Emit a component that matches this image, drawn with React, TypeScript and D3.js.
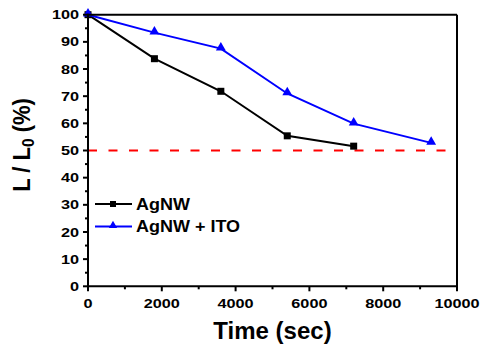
import React from "react";
import * as d3 from "d3";

const timeAg = [0, 1800, 3600, 5400, 7200];
const valAg = [100, 83.8, 71.8, 55.4, 51.6];
const timeIto = [0, 1800, 3600, 5400, 7200, 9300];
const valIto = [100, 93.4, 87.5, 71.0, 59.9, 52.8];
const xTicks = [0, 2000, 4000, 6000, 8000, 10000];
const yTicks = [0, 10, 20, 30, 40, 50, 60, 70, 80, 90, 100];
const threshold = 50;
const seriesNames = ["AgNW", "AgNW + ITO"];

const W = 486, H = 353;
const L = 88, R = 457, T = 14.7, B = 286.3;
const FONT = "'Liberation Sans', Arial, sans-serif";

export default function App() {
  const x = d3.scaleLinear().domain([0, 10000]).range([L, R]);
  const y = d3.scaleLinear().domain([0, 100]).range([B, T]);
  const line = d3.line<[number, number]>().x(d => x(d[0])).y(d => y(d[1]));
  const ag: [number, number][] = timeAg.map((t, i) => [t, valAg[i]]);
  const ito: [number, number][] = timeIto.map((t, i) => [t, valIto[i]]);
  const xMinor = d3.range(1000, 10000, 2000);
  const yMinor = d3.range(5, 100, 10);
  const tri = d3.symbol().type(d3.symbolTriangle).size(42)();
  const black = "#000";
  const blue = "#0000ff";

  return (
    <svg width={W} height={H} style={{ position: "absolute", left: 0, top: 0 }} fontFamily={FONT}>
      <rect width={W} height={H} fill="#fff" />
      {/* threshold */}
      <line x1={x(0)} x2={x(10000)} y1={y(threshold)} y2={y(threshold)} stroke="#ff0000" strokeWidth={2} strokeDasharray="9,11.5" />
      {/* series */}
      <path d={line(ag) || ""} fill="none" stroke={black} strokeWidth={2} />
      <path d={line(ito) || ""} fill="none" stroke={blue} strokeWidth={2} />
      {ag.map((d, i) => (
        <rect key={"a" + i} x={x(d[0]) - 3.5} y={y(d[1]) - 3.5} width={7} height={7} fill={black} />
      ))}
      {ito.map((d, i) => (
        <path key={"b" + i} d={tri || ""} transform={`translate(${x(d[0])},${y(d[1]) - 1})`} fill={blue} />
      ))}
      {/* frame */}
      <line x1={L} x2={R} y1={T} y2={T} stroke={black} strokeWidth={2} />
      <line x1={R} x2={R} y1={T} y2={B} stroke={black} strokeWidth={2} />
      <line x1={L} x2={L} y1={T - 1} y2={B + 1} stroke={black} strokeWidth={2} />
      <line x1={L - 1} x2={R + 1} y1={B} y2={B} stroke={black} strokeWidth={2} />
      {/* y ticks */}
      {yTicks.map(v => (
        <g key={"yt" + v}>
          <line x1={L - 5} x2={L} y1={y(v)} y2={y(v)} stroke={black} strokeWidth={2} />
          <text transform={`translate(${L - 9},${y(v) + 4.6}) scale(1.25,1)`} textAnchor="end" fontSize={13} fontWeight="bold">{v}</text>
        </g>
      ))}
      {yMinor.map(v => (
        <line key={"ym" + v} x1={L - 3} x2={L} y1={y(v)} y2={y(v)} stroke={black} strokeWidth={2} />
      ))}
      {/* x ticks */}
      {xTicks.map(v => (
        <g key={"xt" + v}>
          <line x1={x(v)} x2={x(v)} y1={B} y2={B + 5} stroke={black} strokeWidth={2} />
          <text transform={`translate(${x(v)},${B + 21.3}) scale(1.25,1)`} textAnchor="middle" fontSize={13} fontWeight="bold">{v}</text>
        </g>
      ))}
      {xMinor.map(v => (
        <line key={"xm" + v} x1={x(v)} x2={x(v)} y1={B} y2={B + 3} stroke={black} strokeWidth={2} />
      ))}
      {/* axis titles */}
      <text x={(L + R) / 2} y={339} textAnchor="middle" fontSize={24} fontWeight="bold">Time (sec)</text>
      <text transform={`translate(30,145) rotate(-90) scale(1,1.1)`} textAnchor="middle" fontSize={22} fontWeight="bold">
        L / L<tspan fontSize={15.5} dy={3.5}>0</tspan><tspan dy={-3.5}> (%)</tspan>
      </text>
      {/* legend */}
      <g>
        <line x1={95} x2={132} y1={204} y2={204} stroke={black} strokeWidth={2} />
        <rect x={110} y={201} width={6} height={6} fill={black} />
        <text transform="translate(136,210) scale(1.09,1)" fontSize={16.5} fontWeight="bold">{seriesNames[0]}</text>
        <line x1={95} x2={132} y1={226.5} y2={226.5} stroke={blue} strokeWidth={2} />
        <path d={d3.symbol().type(d3.symbolTriangle).size(30)() || ""} transform="translate(113,225.5)" fill={blue} />
        <text transform="translate(136,232.3) scale(1.09,1)" fontSize={16.5} fontWeight="bold">{seriesNames[1]}</text>
      </g>
    </svg>
  );
}
